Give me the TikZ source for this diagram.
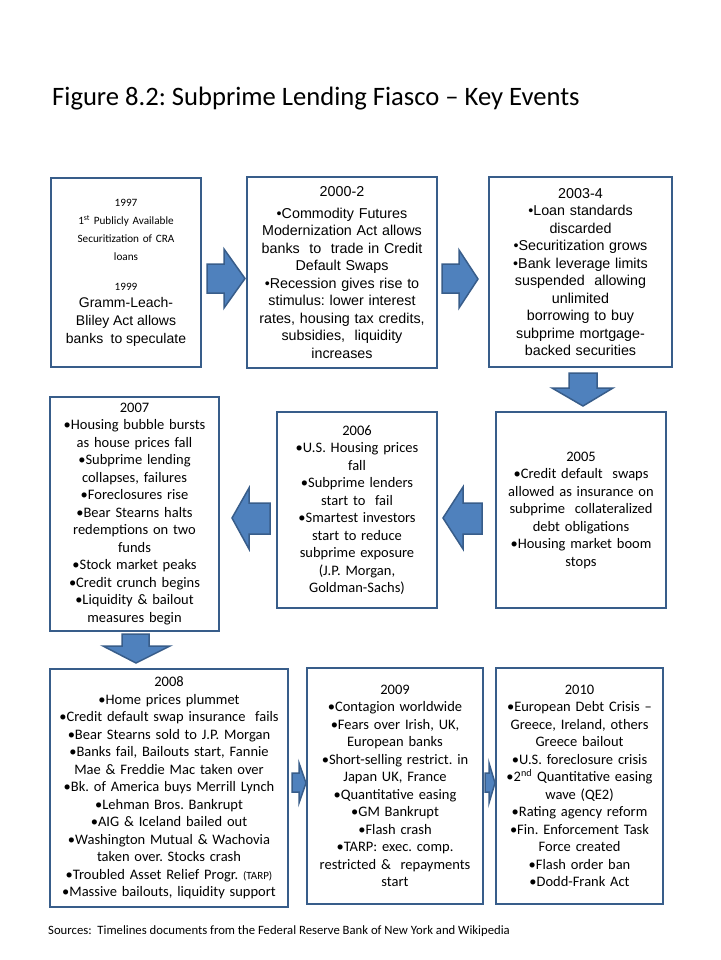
\documentclass[tikz,border=0pt]{standalone}
\usepackage{fontspec}
\setmainfont{Carlito}
\newfontfamily\calfont{Carlito}
\newfontfamily\arifont{Liberation Sans}
\definecolor{boxline}{HTML}{385D8A}
\definecolor{arrowfill}{HTML}{4F81BD}
\frenchspacing
\tikzset{
  box/.style={draw=boxline, line width=2.8pt, fill=white, inner sep=2pt, align=center},
  calbox/.style={box, font=\calfont\fontsize{14.5}{17.5}\selectfont},
  aribox/.style={box, font=\arifont\fontsize{14.3}{17.5}\selectfont},
  blockarrow/.style={fill=arrowfill, draw=boxline, line width=1.5pt, line join=miter},
  plaintext/.style={anchor=base west, inner sep=0pt},
}
\begin{document}
\frenchspacing
\begin{tikzpicture}[x=1pt,y=-1pt]
\fill[white] (0,0) rectangle (720,960);
\useasboundingbox (0,0) rectangle (720,960);

\node[plaintext, font=\calfont\fontsize{26.6}{30}\selectfont] (title) at (52,106)
  {Figure 8.2: Subprime Lending Fiasco – Key Events};

% Row 1
\node[box, font=\calfont\fontsize{11.2}{18}\selectfont, minimum width=150pt, minimum height=189pt, text width=144pt] (b1) at (126,272.5)
  {1997\\ 1\textsuperscript{st} Publicly Available\\ Securitization of CRA\\ loans\\[12pt] 1999\\
   \arifont\fontsize{14}{17.5}\selectfont Gramm-Leach-\\ Bliley Act allows\\ banks~ to speculate};

\node[aribox, minimum width=190pt, minimum height=191pt, text width=184pt] (b2) at (342,272.5)
  {2000-2\\[4pt] •Commodity Futures\\ Modernization Act allows\\ banks~ to~ trade in Credit\\ Default Swaps\\
   •Recession gives rise to\\ stimulus: lower interest\\ rates, housing tax credits,\\ subsidies,~ liquidity\\ increases};

\node[aribox, minimum width=183pt, minimum height=190pt, text width=177pt] (b3) at (580.5,272)
  {2003-4\\ •Loan standards\\ discarded\\ •Securitization grows\\ •Bank leverage limits\\ suspended~ allowing\\
   unlimited\\ borrowing to buy\\ subprime mortgage-\\ backed securities};

% Row 2
\node[calbox, minimum width=169pt, minimum height=234pt, text width=163pt] (b2007) at (134.5,514)
  {2007\\ •Housing bubble bursts\\ as house prices fall\\ •Subprime lending\\ collapses, failures\\ •Foreclosures rise\\
   •Bear Stearns halts\\ redemptions on two\\ funds\\ •Stock market peaks\\ •Credit crunch begins\\
   •Liquidity \& bailout\\ measures begin};

\node[calbox, minimum width=160pt, minimum height=196pt, text width=154pt] (b2006) at (357,510)
  {2006\\ •U.S. Housing prices\\ fall\\ •Subprime lenders\\ start to~ fail\\ •Smartest investors\\ start to reduce\\
   subprime exposure\\ (J.P. Morgan,\\ Goldman-Sachs)};

\node[calbox, minimum width=170pt, minimum height=196pt, text width=164pt] (b2005) at (581,510)
  {2005\\ •Credit default~ swaps\\ allowed as insurance on\\ subprime~ collateralized\\ debt obligations\\
   •Housing market boom\\ stops};

% Row 3
\node[calbox, minimum width=238pt, minimum height=238pt, text width=232pt] (b2008) at (169,788)
  {2008\\ •Home prices plummet\\ •Credit default swap insurance~ fails\\ •Bear Stearns sold to J.P. Morgan\\
   •Banks fail, Bailouts start, Fannie\\ Mae \& Freddie Mac taken over\\ •Bk. of America buys Merrill Lynch\\
   •Lehman Bros. Bankrupt\\ •AIG \& Iceland bailed out\\ •Washington Mutual \& Wachovia\\
   taken over. Stocks crash\\ •Troubled Asset Relief Progr. {\fontsize{11}{17.5}\selectfont(TARP)}\\
   •Massive bailouts, liquidity support};

\node[calbox, minimum width=176pt, minimum height=236pt, text width=170pt] (b2009) at (395,786)
  {2009\\ •Contagion worldwide\\ •Fears over Irish, UK,\\ European banks\\ •Short-selling restrict. in\\
   Japan UK, France\\ •Quantitative easing\\ •GM Bankrupt\\ •Flash crash\\ •TARP: exec. comp.\\
   restricted \&~ repayments\\ start};

\node[calbox, minimum width=167pt, minimum height=236pt, text width=161pt] (b2010) at (579.5,786)
  {2010\\ •European Debt Crisis –\\ Greece, Ireland, others\\ Greece bailout\\ •U.S. foreclosure crisis\\
   •2\textsuperscript{nd} Quantitative easing\\ wave (QE2)\\ •Rating agency reform\\ •Fin. Enforcement Task\\
   Force created\\ •Flash order ban\\ •Dodd-Frank Act};

% Block arrows
\draw[blockarrow] (207,264) -- (224,264) -- (224,249) -- (245,278.5) -- (224,308) -- (224,293) -- (207,293) -- cycle;
\draw[blockarrow] (442,264) -- (459,264) -- (459,250) -- (478,279) -- (459,308) -- (459,293) -- (442,293) -- cycle;
\draw[blockarrow] (569,373) -- (597,373) -- (597,388) -- (613,388) -- (583,406) -- (552,388) -- (569,388) -- cycle;
\draw[blockarrow] (482,503) -- (463,503) -- (463,487) -- (443,518) -- (463,549) -- (463,534) -- (482,534) -- cycle;
\draw[blockarrow] (270,503) -- (249,503) -- (249,488) -- (232,518) -- (249,549) -- (249,534) -- (270,534) -- cycle;
\draw[blockarrow] (122,634) -- (149,634) -- (149,646) -- (170,646) -- (136,663) -- (103,646) -- (122,646) -- cycle;
\draw[blockarrow] (292,773) -- (299,773) -- (299,763) -- (306,783) -- (299,803) -- (299,792) -- (292,792) -- cycle;
\draw[blockarrow] (485,773) -- (489,773) -- (489,763) -- (495,783) -- (489,803) -- (489,792) -- (485,792) -- cycle;

\node[plaintext, font=\calfont\fontsize{12.7}{14}\selectfont] (src) at (48,934)
  {Sources:~ Timelines documents from the Federal Reserve Bank of New York and Wikipedia};
\end{tikzpicture}
\end{document}
